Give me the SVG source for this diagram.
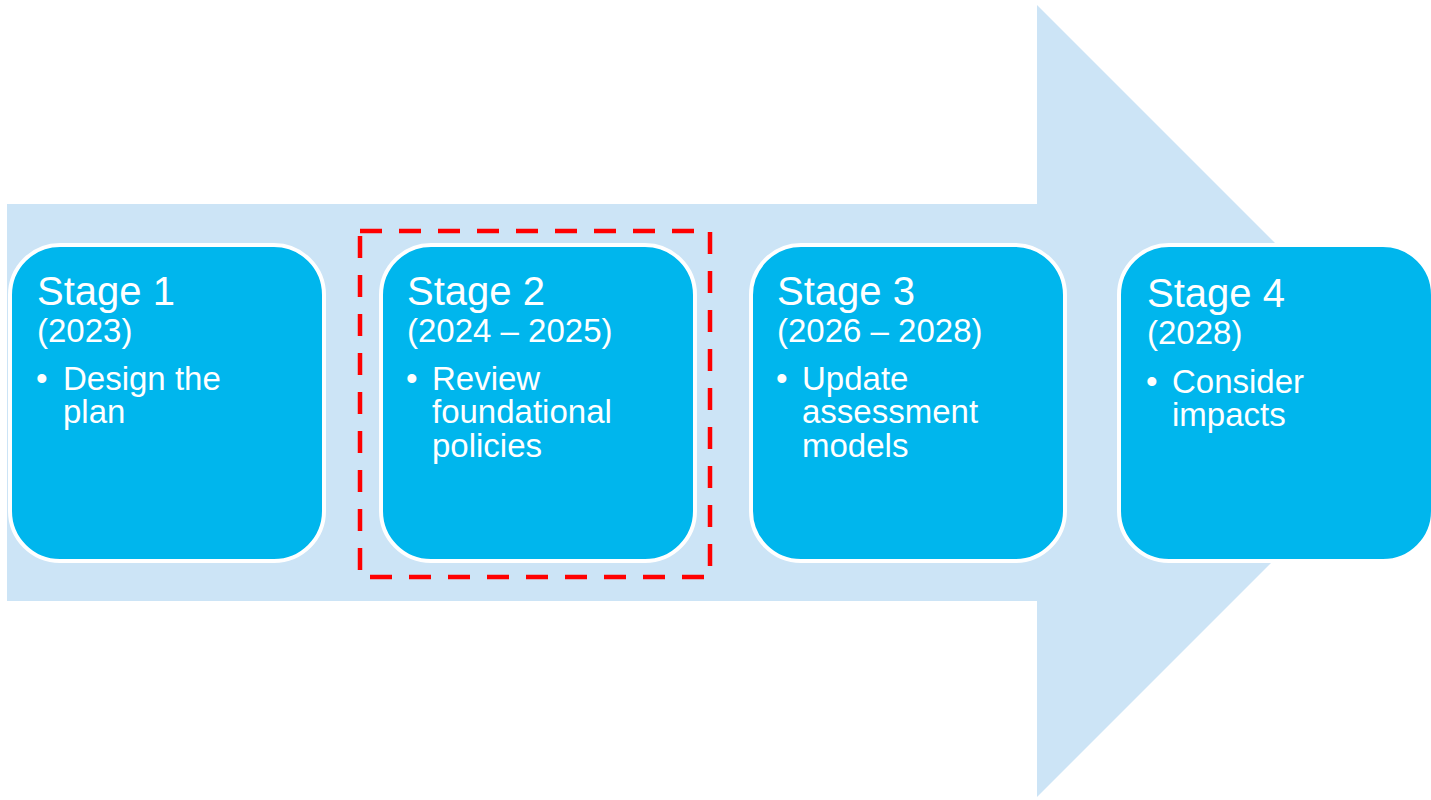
<svg xmlns="http://www.w3.org/2000/svg" width="1431" height="800" viewBox="0 0 1431 800">
<style>
.box{fill:#00B6ED;stroke:#FFFFFF;stroke-width:4}
.t{font-family:"Liberation Sans",Arial,sans-serif;fill:#FFFFFF}
.st{font-size:40px}
.yr{font-size:33px}
.bl{font-size:33px}
</style>
<rect width="1431" height="800" fill="#FFFFFF"/>
<g id="arrow">
<polygon points="7,204 1037,204 1037,5 1433,401 1037,797 1037,601 7,601" fill="#CCE4F6"/>
</g>
<g id="stage1">
<rect class="box" x="10" y="245" width="314" height="316" rx="50" ry="50"/>
<text class="t st" x="37" y="305">Stage 1</text>
<text class="t yr" x="37" y="342">(2023)</text>
<text class="t bl" x="36" y="390">•</text>
<text class="t bl"><tspan x="63" y="390">Design the</tspan><tspan x="63" y="423">plan</tspan></text>
</g>
<g id="stage2">
<rect class="box" x="381" y="245" width="314" height="316" rx="50" ry="50"/>
<text class="t st" x="407" y="305">Stage 2</text>
<text class="t yr" x="407" y="342">(2024 – 2025)</text>
<text class="t bl" x="406" y="390">•</text>
<text class="t bl"><tspan x="432" y="390">Review</tspan><tspan x="432" y="423">foundational</tspan><tspan x="432" y="457">policies</tspan></text>
</g>
<g id="stage3">
<rect class="box" x="751" y="245" width="314" height="316" rx="50" ry="50"/>
<text class="t st" x="777" y="305">Stage 3</text>
<text class="t yr" x="777" y="342">(2026 – 2028)</text>
<text class="t bl" x="776" y="390">•</text>
<text class="t bl"><tspan x="802" y="390">Update</tspan><tspan x="802" y="423">assessment</tspan><tspan x="802" y="457">models</tspan></text>
</g>
<g id="stage4">
<rect class="box" x="1119" y="245" width="314" height="316" rx="50" ry="50"/>
<text class="t st" x="1147" y="307">Stage 4</text>
<text class="t yr" x="1147" y="344">(2028)</text>
<text class="t bl" x="1146" y="393">•</text>
<text class="t bl"><tspan x="1172" y="393">Consider</tspan><tspan x="1172" y="426">impacts</tspan></text>
</g>
<g id="connectors"></g>
<g id="highlight">
<rect x="360" y="231" width="350" height="346" fill="none" stroke="#FF0000" stroke-width="4.5" stroke-dasharray="22 17"/>
</g>
</svg>
